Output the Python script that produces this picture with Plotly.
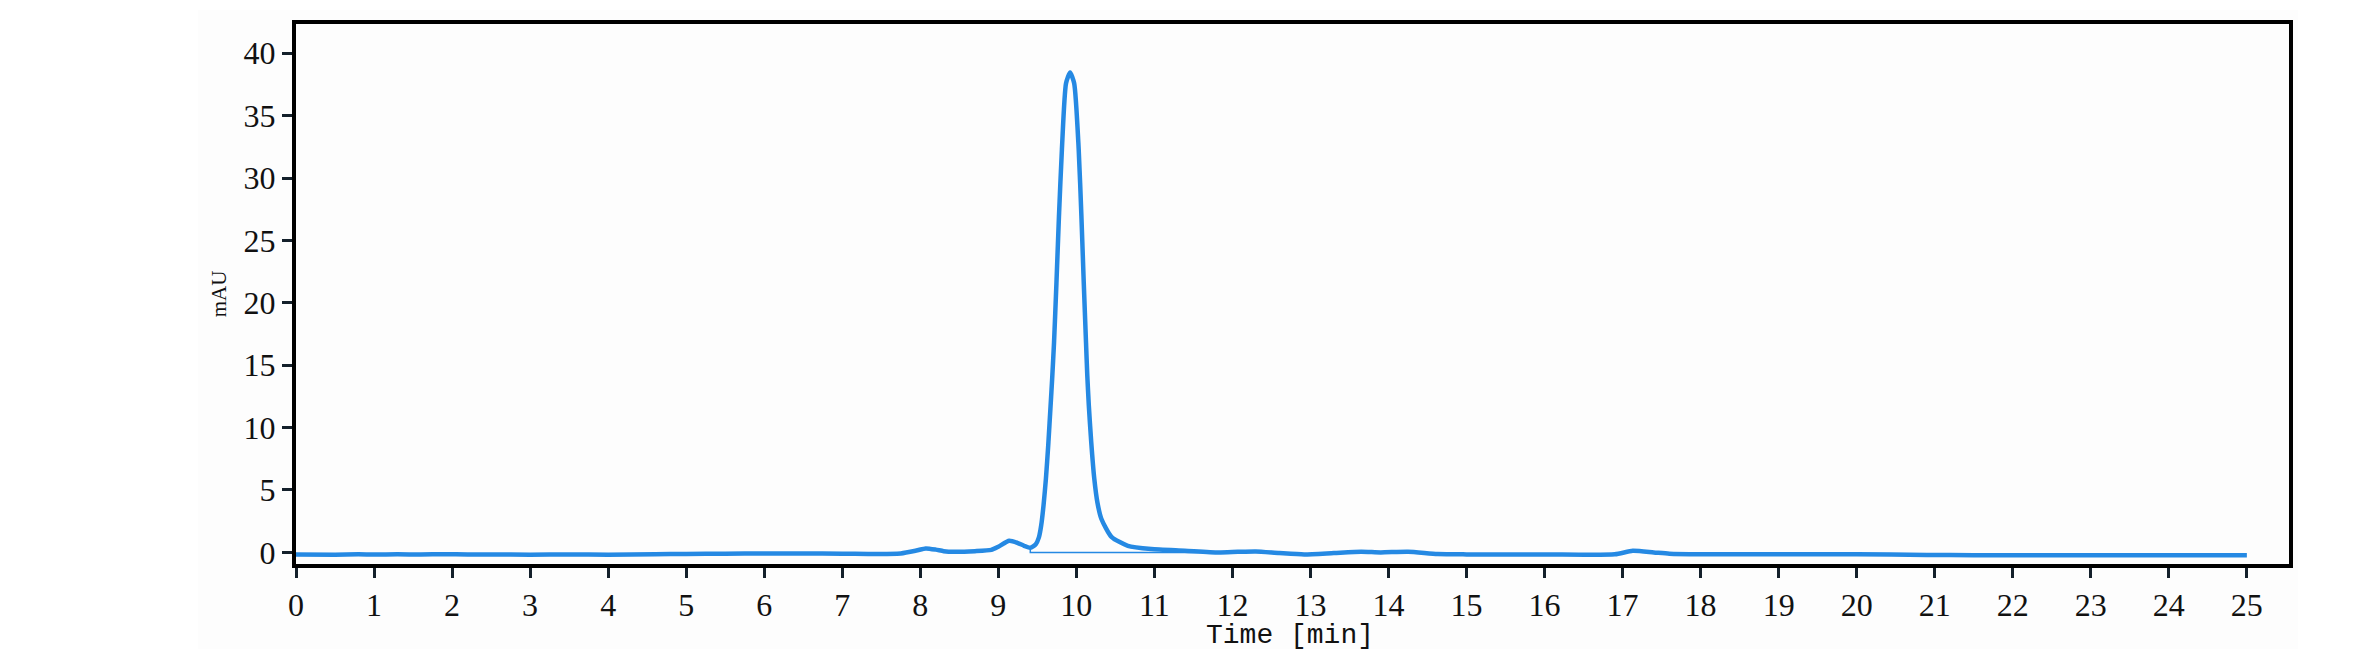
import plotly.graph_objects as go

# chromatogram trace (time in min, signal in mAU)
time_min = [0.0, 0.5, 0.8, 1.0, 1.3, 1.6, 1.9, 2.2, 2.5, 3.0, 3.5, 4.0, 4.6, 5.0, 5.5,
            6.0, 6.5, 7.0, 7.33, 7.75, 7.95, 8.07, 8.2, 8.3, 8.44, 8.7, 8.91, 9.0,
            9.14, 9.25, 9.33, 9.41, 9.48, 9.52, 9.55, 9.58, 9.61, 9.64, 9.67, 9.69,
            9.714, 9.745, 9.777, 9.815, 9.868, 9.92, 9.972, 10.03, 10.065, 10.095,
            10.124, 10.14, 10.16, 10.19, 10.23, 10.27, 10.32, 10.45, 10.66, 10.96,
            11.39, 11.82, 12.07, 12.3, 12.6, 12.92, 13.3, 13.65, 13.9, 14.25, 14.63,
            15.0, 16.0, 16.9, 17.13, 17.4, 17.6, 18.0, 19.0, 20.0, 20.9, 21.5, 22.0,
            23.0, 24.0, 25.0]
signal_mau = [-0.17, -0.18, -0.15, -0.17, -0.15, -0.17, -0.14, -0.16, -0.17, -0.18, -0.16,
              -0.18, -0.15, -0.12, -0.1, -0.09, -0.09, -0.1, -0.12, -0.08, 0.15, 0.32,
              0.22, 0.1, 0.05, 0.1, 0.2, 0.45, 0.93, 0.75, 0.53, 0.37, 0.65, 1.2, 2.18,
              3.8, 5.9, 8.6, 11.77, 13.9, 16.8, 21.6, 26.9, 32.3, 37.6, 38.45, 37.6,
              32.3, 26.9, 21.6, 16.8, 14.2, 11.77, 8.9, 5.9, 4.0, 2.7, 1.25, 0.53, 0.27,
              0.14, 0.0, 0.05, 0.08, -0.05, -0.16, -0.05, 0.05, 0.0, 0.05, -0.13, -0.16,
              -0.16, -0.15, 0.13, 0.0, -0.1, -0.14, -0.14, -0.15, -0.2, -0.22, -0.22,
              -0.22, -0.22, -0.22]

# integration baseline drawn under the main peak
base_time = [9.41, 9.41, 11.8]
base_mau = [0.37, 0.0, 0.0]

x_ticks = list(range(0, 26))
y_ticks = [0, 5, 10, 15, 20, 25, 30, 35, 40]

blue = "#2589E3"
tick_font = dict(family="Liberation Serif, Times New Roman, serif", size=32, color="#111111")

fig = go.Figure()
fig.add_trace(go.Scatter(x=base_time, y=base_mau, mode="lines",
                         line=dict(color=blue, width=1.5), hoverinfo="skip"))
fig.add_trace(go.Scatter(x=time_min, y=signal_mau, mode="lines",
                         line=dict(color=blue, width=4.5, shape="spline", smoothing=0.6)))

fig.update_xaxes(range=[0, 25.54], tickvals=x_ticks, ticks="outside", ticklen=10,
                 tickwidth=3, tickcolor="#14202b", showline=True, linewidth=4,
                 linecolor="#000000", mirror=True, showgrid=False, zeroline=False,
                 tickfont=tick_font)
fig.update_yaxes(range=[-0.93, 42.34], tickvals=y_ticks, ticks="outside", ticklen=10,
                 tickwidth=3, tickcolor="#14202b", showline=True, linewidth=4,
                 linecolor="#000000", mirror=True, showgrid=False, zeroline=False,
                 tickfont=tick_font)

fig.add_annotation(text="mAU", xref="paper", yref="paper", x=-0.0385, y=0.5,
                   xanchor="center", yanchor="middle", showarrow=False, textangle=-90,
                   font=dict(family="Liberation Serif, serif", size=21, color="#111111"))
fig.add_annotation(text="Time [min]", xref="paper", yref="paper", x=0.4989, y=-0.1316,
                   xanchor="center", yanchor="middle", showarrow=False,
                   font=dict(family="Liberation Mono, monospace", size=28, color="#111111"))

# faint off-white panel behind the figure
fig.add_shape(type="rect", xref="paper", yref="paper", x0=-0.0493, x1=1.0045,
              y0=-0.172, y1=1.026, fillcolor="#fdfdfd", line=dict(width=0), layer="below")

fig.update_layout(width=2367, height=649, showlegend=False,
                  margin=dict(l=288, r=86, t=14, b=93),
                  paper_bgcolor="#ffffff", plot_bgcolor="#fdfdfd")

fig.write_html("out.html")
